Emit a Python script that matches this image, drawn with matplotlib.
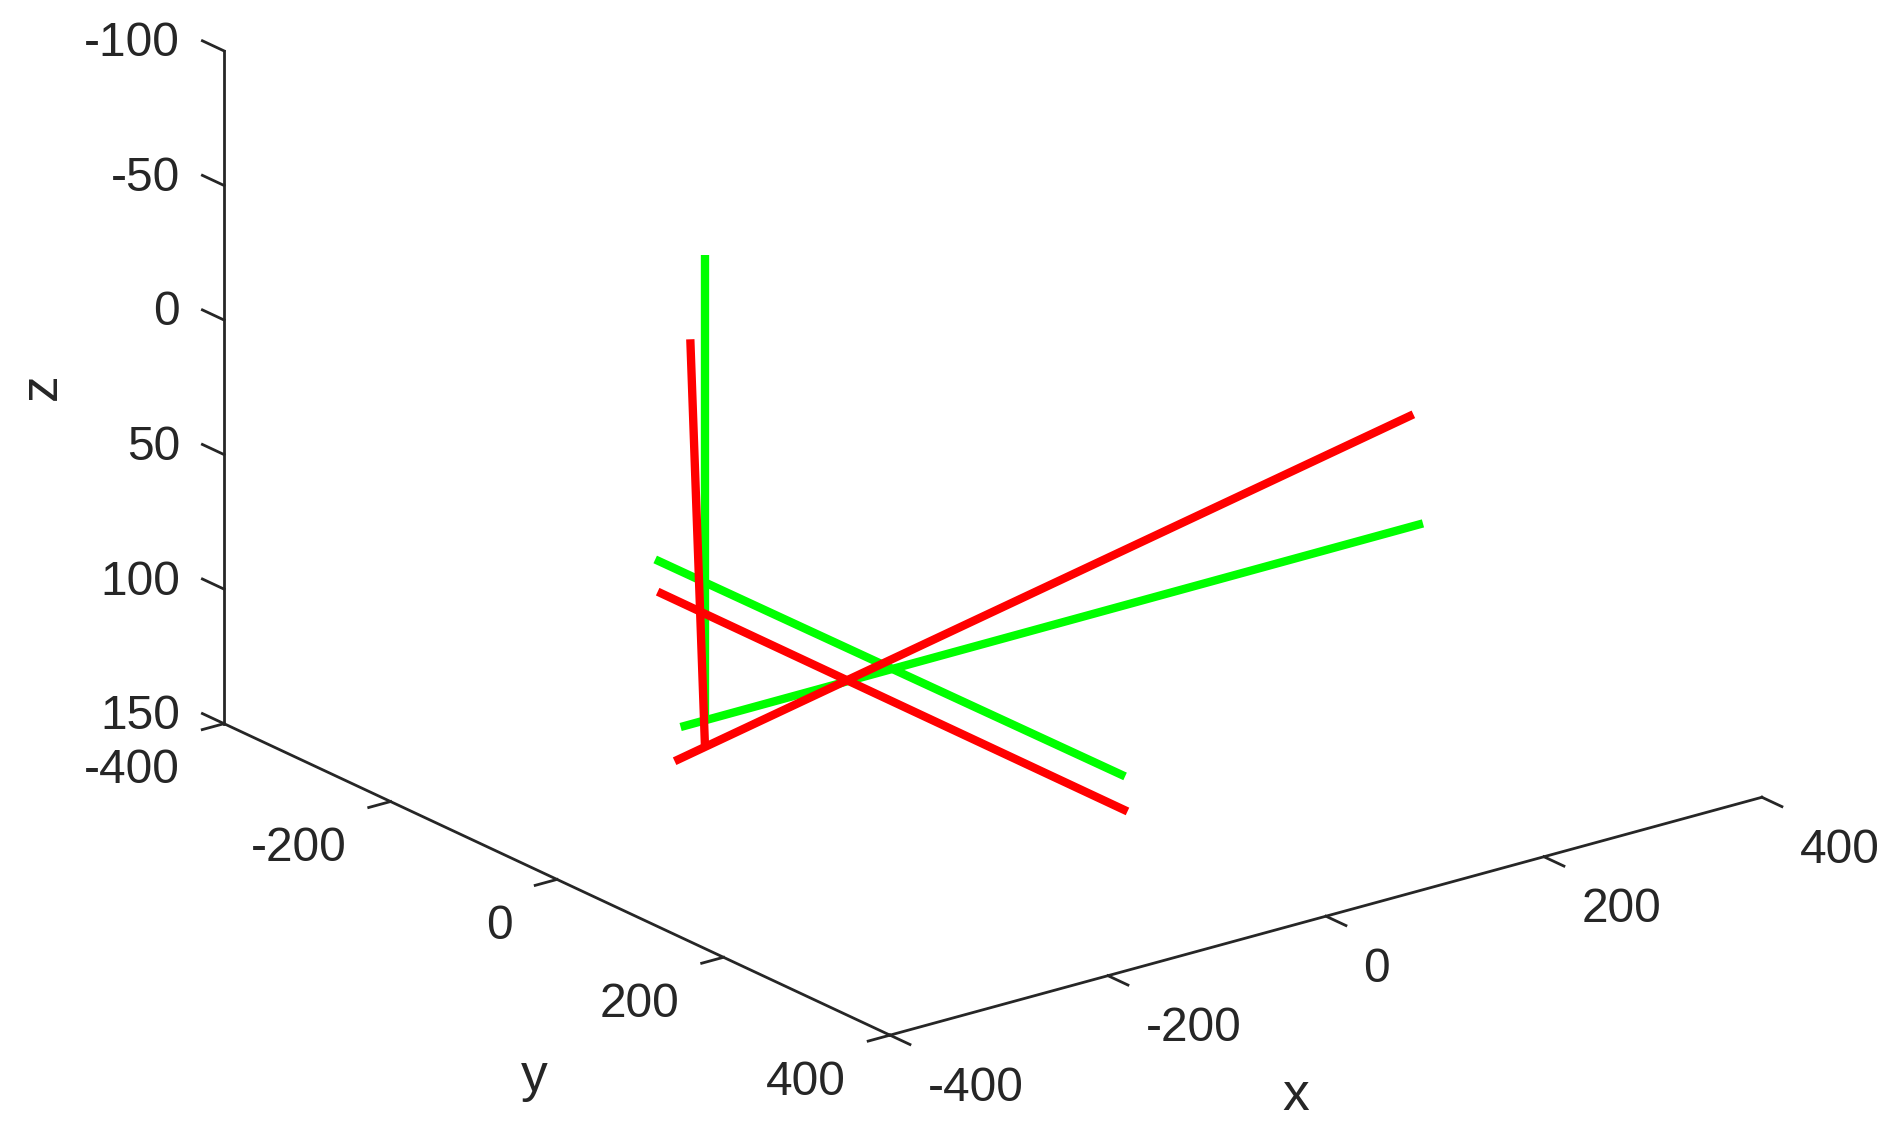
import numpy as np
import matplotlib
matplotlib.use("Agg")
import matplotlib.pyplot as plt

# ---------------- data ----------------
x_ticks = [-400, -200, 0, 200, 400]
y_ticks = [-400, -200, 0, 200, 400]
z_ticks = [-100, -50, 0, 50, 100, 150]
x_range = [-400, 400]
y_range = [-400, 400]
z_range = [-100, 150]

# green frame: three segments (x, y, z endpoint lists)
green_z_x = [-264.3, -264.3]
green_z_y = [0.0, 0.0]
green_z_z = [-67.2, 106.0]
green_x_x = [-286.6, 394.5]
green_x_y = [0.0, 0.0]
green_x_z = [105.9, 105.5]
green_y_x = [-93.4, -89.9]
green_y_y = [-283.5, 276.4]
green_y_z = [106.0, 106.0]

# red frame: three segments
red_z_x = [-277.7, -264.3]
red_z_y = [0.0, 0.0]
red_z_z = [-37.2, 115.0]
red_x_x = [-292.1, 385.7]
red_x_y = [0.0, 0.0]
red_x_z = [118.0, 64.0]
red_y_x = [-133.9, -133.9]
red_y_y = [-227.5, 336.9]
red_y_z = [105.4, 105.4]

# ---------------- style ----------------
W, H = 1899, 1143
AXC = "#262626"
FONT = "Liberation Sans"
TICK_FS = 34.5
LABEL_FS = 38.5
AX_LW = 2.0
DATA_LW = 6.0

fig = plt.figure(figsize=(W / 100, H / 100), dpi=100)
ax = fig.add_axes([0, 0, 1, 1], projection="3d", proj_type="ortho",
                  computed_zorder=False)
ax.set_xlim(x_range[0], x_range[1])
ax.set_ylim(y_range[0], y_range[1])
ax.set_zlim(z_range[1], z_range[0])          # reversed z direction
ax.set_box_aspect((1, 1, 0.6565))
ax.view_init(elev=-20.93, azim=-52.63)
ax.set_axis_off()

x0, x1 = x_range
y0, y1 = y_range
zt, zb = z_range  # top (-100) and bottom (150)

# axis lines (MATLAB-like: x along y=max, y along x=min, z at x=min,y=min)
ax.plot([x0, x1], [y1, y1], [zb, zb], color=AXC, lw=AX_LW, clip_on=False)
ax.plot([x0, x0], [y0, y1], [zb, zb], color=AXC, lw=AX_LW, clip_on=False)
ax.plot([x0, x0], [y0, y0], [zt, zb], color=AXC, lw=AX_LW, clip_on=False)

# tick marks
for v in x_ticks:
    ax.plot([v, v], [y1, y1 + 24], [zb, zb], color=AXC, lw=AX_LW, clip_on=False)
for v in y_ticks:
    ax.plot([x0, x0 - 20], [v, v], [zb, zb], color=AXC, lw=AX_LW, clip_on=False)
for v in z_ticks:
    ax.plot([x0, x0], [y0, y0 - 26], [v, v], color=AXC, lw=AX_LW, clip_on=False)

# data segments: green first, red on top
for xs, ys, zs in [(green_z_x, green_z_y, green_z_z),
                   (green_x_x, green_x_y, green_x_z),
                   (green_y_x, green_y_y, green_y_z)]:
    ax.plot(xs, ys, zs, color="#00FF00", lw=DATA_LW, clip_on=False,
            solid_capstyle="butt")
for xs, ys, zs in [(red_z_x, red_z_y, red_z_z),
                   (red_x_x, red_x_y, red_x_z),
                   (red_y_x, red_y_y, red_y_z)]:
    ax.plot(xs, ys, zs, color="#FF0000", lw=DATA_LW, clip_on=False,
            solid_capstyle="butt")

# ---------------- layout: place the axes box where the frame sits ----------
anchors_3d = [(x0, y1, zb), (x1, y1, zb), (x0, y0, zb), (x0, y0, zt)]
anchors_px = [(890, 1035), (1762, 797), (224, 724), (224, 51)]  # image coords


def proj2d(pt):
    M = ax.get_proj()
    v = M @ np.array([pt[0], pt[1], pt[2], 1.0])
    v = v / v[3]
    return v[0], v[1]


D = np.array([(px, H - py) for px, py in anchors_px], dtype=float)
for _ in range(3):
    fig.canvas.draw()
    P = np.array([ax.transData.transform(proj2d(p)) for p in anchors_3d])
    Pm, Dm = P.mean(axis=0), D.mean(axis=0)
    s = np.sum((P - Pm) * (D - Dm)) / np.sum((P - Pm) ** 2)
    t = Dm - s * Pm
    pos = ax.get_position()
    bx0, by0 = pos.x0 * W, pos.y0 * H
    bw, bh = pos.width * W, pos.height * H
    ax.set_position([(s * bx0 + t[0]) / W, (s * by0 + t[1]) / H,
                     s * bw / W, s * bh / H])
fig.canvas.draw()


# ---------------- texts (3D anchor projected to the 2D view) ----------------
def label3d(x, y, z, s, **kw):
    xp, yp = proj2d((x, y, z))
    ax.text2D(xp, yp, s, transform=ax.transData, color=AXC, family=FONT,
              clip_on=False, **kw)


for v in x_ticks:
    label3d(v, y1 + 45, zb + 11.3, str(v), ha="left", va="center_baseline",
            fontsize=TICK_FS)
for v in y_ticks:
    label3d(x0 - 40.4, v, zb + 11.1, str(v), ha="right",
            va="center_baseline", fontsize=TICK_FS)
for v in z_ticks:
    label3d(x0, y0 - 53, v + 3.2, str(v), ha="right", va="center_baseline",
            fontsize=TICK_FS)

label3d(-27.5, y1, 213.8, "x", ha="center", va="center", fontsize=LABEL_FS)
label3d(x0, -27.6, 227.6, "y", ha="center", va="center", fontsize=LABEL_FS)
label3d(x0, -619.0, 56.5, "z", ha="center", va="center", rotation=90,
        fontsize=LABEL_FS)

fig.savefig("out.png", dpi=100)
